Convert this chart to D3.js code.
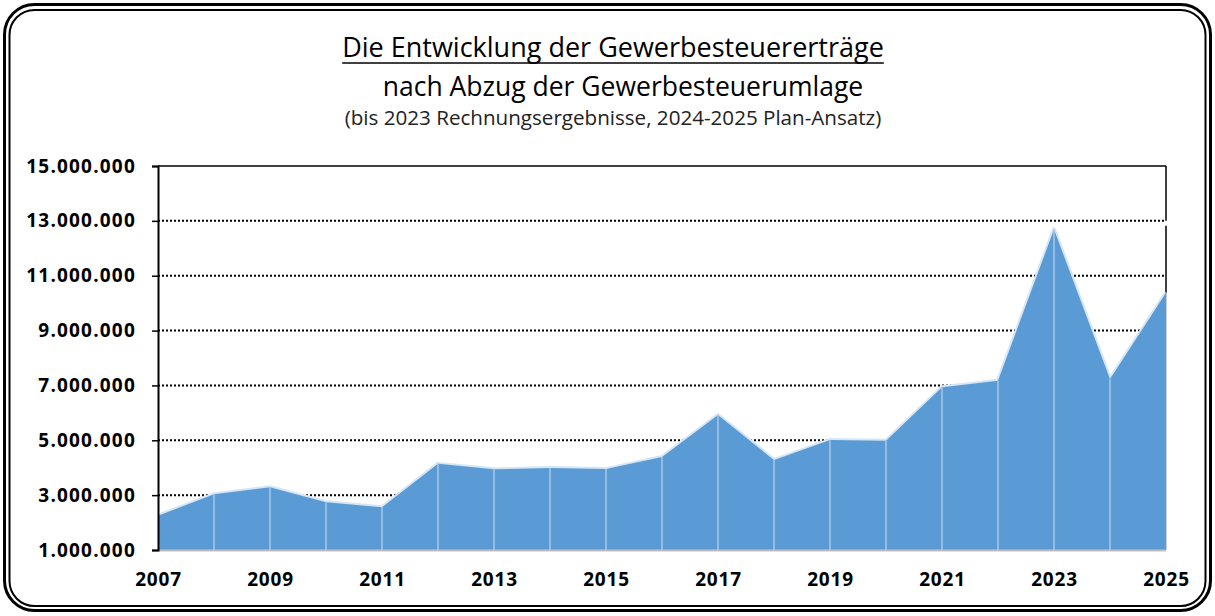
<!DOCTYPE html>
<meta charset="utf-8">
<style>
  body { margin: 0; background: #fff; }
  text { font-family: "Open Sans", "Noto Sans", sans-serif; }
</style>
<body>
<script src="https://d3js.org/d3.v7.min.js"></script>
<script>
var years = [2007, 2008, 2009, 2010, 2011, 2012, 2013, 2014, 2015, 2016,
             2017, 2018, 2019, 2020, 2021, 2022, 2023, 2024, 2025];
var revenue = [2250000, 3030000, 3290000, 2740000, 2560000, 4140000, 3940000,
               3990000, 3950000, 4390000, 5920000, 4280000, 5010000, 4980000,
               6930000, 7170000, 12690000, 7230000, 10380000];
var yTicks = [1000000, 3000000, 5000000, 7000000, 9000000, 11000000, 13000000, 15000000];
var xTickYears = [2007, 2009, 2011, 2013, 2015, 2017, 2019, 2021, 2023, 2025];

var width = 1215, height = 616;
var plotLeft = 158, plotRight = 1166, plotTop = 166, plotBottom = 550;

var svg = d3.select("body").append("svg")
    .attr("width", width)
    .attr("height", height);

// double rounded frame
svg.append("rect").attr("x", 4.5).attr("y", 4.5).attr("width", width - 9).attr("height", height - 10)
    .attr("rx", 30).attr("fill", "none").attr("stroke", "#000").attr("stroke-width", 3);
svg.append("rect").attr("x", 9.5).attr("y", 10).attr("width", width - 19).attr("height", height - 20)
    .attr("rx", 25).attr("fill", "none").attr("stroke", "#000").attr("stroke-width", 2);

// titles
var t1 = svg.append("text").attr("x", 613).attr("y", 57).attr("text-anchor", "middle")
    .style("font-size", "27px").attr("fill", "#000")
    .text("Die Entwicklung der Gewerbesteuererträge");
var bb = t1.node().getBBox();
svg.append("line").attr("x1", bb.x).attr("x2", bb.x + bb.width)
    .attr("y1", 63).attr("y2", 63).attr("stroke", "#000").attr("stroke-width", 1.5);
svg.append("text").attr("x", 623).attr("y", 96).attr("text-anchor", "middle")
    .style("font-size", "26.5px").attr("fill", "#000")
    .text("nach Abzug der Gewerbesteuerumlage");
svg.append("text").attr("x", 613).attr("y", 125).attr("text-anchor", "middle")
    .style("font-size", "20.6px").attr("fill", "#222")
    .text("(bis 2023 Rechnungsergebnisse, 2024-2025 Plan-Ansatz)");

var x = d3.scaleLinear().domain([2007, 2025]).range([plotLeft, plotRight]);
var y = d3.scaleLinear().domain([1000000, 15000000]).range([plotBottom, plotTop]);

var fmt = function(d) { return d3.format(",")(d).replace(/,/g, "."); };

// dotted gridlines
svg.append("g").selectAll("line")
  .data(yTicks.filter(function(d) { return d > 1000000 && d < 15000000; }))
  .join("line")
    .attr("x1", plotLeft).attr("x2", plotRight)
    .attr("y1", function(d) { return y(d); })
    .attr("y2", function(d) { return y(d); })
    .attr("stroke", "#000").attr("stroke-width", 2)
    .attr("stroke-dasharray", "2,2");

// top and right border of plot
svg.append("line").attr("x1", plotLeft).attr("x2", plotRight).attr("y1", plotTop).attr("y2", plotTop)
    .attr("stroke", "#000").attr("stroke-width", 1.5);
svg.append("line").attr("x1", plotRight).attr("x2", plotRight).attr("y1", plotTop).attr("y2", y(13000000))
    .attr("stroke", "#000").attr("stroke-width", 1.5);
svg.append("line").attr("x1", plotRight).attr("x2", plotRight).attr("y1", y(13000000) + 5).attr("y2", y(revenue[revenue.length - 1]))
    .attr("stroke", "#000").attr("stroke-width", 1.5);

// area
var data = years.map(function(d, i) { return { year: d, value: revenue[i] }; });
var area = d3.area()
    .x(function(d) { return x(d.year); })
    .y0(plotBottom)
    .y1(function(d) { return y(d.value); });
var line = d3.line()
    .x(function(d) { return x(d.year); })
    .y(function(d) { return y(d.value); });

svg.append("path").datum(data).attr("d", line)
    .attr("fill", "none").attr("stroke", "#d6e6f5").attr("stroke-width", 4)
    .attr("stroke-linejoin", "round");
svg.append("path").datum(data).attr("d", area).attr("fill", "#5b9bd5");

// drop lines
svg.append("g").selectAll("line")
  .data(data.slice(1, -1))
  .join("line")
    .attr("x1", function(d) { return x(d.year); })
    .attr("x2", function(d) { return x(d.year); })
    .attr("y1", function(d) { return y(d.value); })
    .attr("y2", plotBottom)
    .attr("stroke", "#a9c9e9").attr("stroke-width", 1.5);

svg.append("line").attr("x1", plotLeft).attr("x2", plotRight).attr("y1", plotBottom + 0.5).attr("y2", plotBottom + 0.5)
    .attr("stroke", "#bfbfbf").attr("stroke-width", 2);
svg.append("line").attr("x1", plotRight).attr("x2", plotRight).attr("y1", y(revenue[revenue.length - 1])).attr("y2", plotBottom)
    .attr("stroke", "#999").attr("stroke-width", 1);

// y axis
var yAxis = svg.append("g").attr("transform", "translate(" + plotLeft + ",0)")
    .call(d3.axisLeft(y).tickValues(yTicks).tickFormat(fmt).tickSize(6).tickPadding(16));
yAxis.select(".domain").attr("stroke", "#000").attr("stroke-width", 2);
yAxis.selectAll(".tick line").attr("stroke", "#000").attr("stroke-width", 1.5);
yAxis.selectAll("text").attr("fill", "#000")
    .style("font-size", "19px").style("font-weight", "bold")
    .style("letter-spacing", "1.2px")
    .style("font-family", "'Open Sans', sans-serif");

// x axis
var xAxis = svg.append("g").attr("transform", "translate(0," + plotBottom + ")")
    .call(d3.axisBottom(x).tickValues(xTickYears).tickFormat(d3.format("d")).tickSize(0).tickPadding(23));
xAxis.select(".domain").remove();
xAxis.selectAll("text").attr("fill", "#000")
    .style("font-size", "19px").style("font-weight", "bold")
    .style("letter-spacing", "0.8px")
    .style("font-family", "'Open Sans', sans-serif");
</script>
</body>
